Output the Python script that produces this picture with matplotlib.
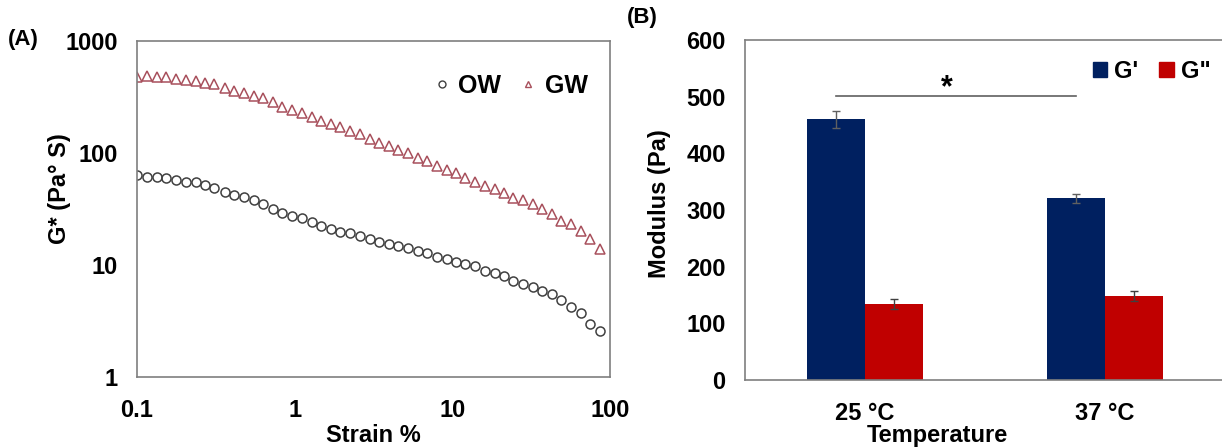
import matplotlib
matplotlib.use("Agg")
import matplotlib.pyplot as plt
from matplotlib.lines import Line2D
from matplotlib.patches import Patch

plt.rcParams['font.family'] = ['Liberation Sans', 'DejaVu Sans']
plt.rcParams['font.weight'] = 'bold'

# (A) amplitude sweep
strain = [0.1, 0.116, 0.133, 0.152, 0.178, 0.206, 0.235, 0.269, 0.31, 0.359,
          0.412, 0.476, 0.549, 0.627, 0.732, 0.836, 0.965, 1.12, 1.28, 1.47,
          1.70, 1.95, 2.25, 2.58, 2.99, 3.41, 3.94, 4.52, 5.22, 6.03,
          6.93, 8.0, 9.24, 10.5, 12.1, 14.0, 16.2, 18.7, 21.3, 24.4,
          27.9, 32.3, 37.3, 43.1, 49.2, 56.9, 65.7, 74.6, 86.1]
ow = [63.6, 61.5, 61.5, 60.2, 57.4, 55.4, 54.7, 51.8, 48.4, 45.2,
      42.2, 40.2, 38.0, 35.1, 31.6, 29.3, 27.6, 26.1, 24.4, 22.5,
      21.0, 19.8, 19.2, 18.2, 16.9, 16.1, 15.4, 14.8, 14.1, 13.3,
      12.7, 11.9, 11.3, 10.7, 10.2, 9.7, 8.8, 8.4, 7.9, 7.2,
      6.8, 6.3, 5.9, 5.5, 4.9, 4.2, 3.7, 3.0, 2.6]
gw = [473, 487, 477, 477, 455, 449, 439, 425, 411, 383,
      360, 346, 325, 308, 283, 259, 242, 229, 211, 194,
      180, 169, 157, 147, 132, 124, 115, 106, 99, 91,
      84, 77, 70, 66, 60, 55, 51, 48, 44, 40,
      38, 35, 31.6, 28.3, 24.9, 23.2, 20.2, 17.1, 13.8]

# (B) moduli
temps = ['25 °C', '37 °C']
g_storage = [460, 321]
g_storage_err = [15, 8]
g_loss = [134, 148]
g_loss_err = [9, 9]

fig = plt.figure(figsize=(12.22, 4.48), dpi=100)

# ---- panel A ----
ax1 = fig.add_axes([137 / 1222, 71 / 448, 473 / 1222, 336 / 448])
ax1.plot(strain, ow, 'o', ms=6.5, mfc='none', mec='#404040', mew=1.1, ls='none', label='OW')
ax1.plot(strain, gw, '^', ms=6.5, mfc='none', mec='#A8505C', mew=1.1, ls='none', label='GW')
ax1.set_xscale('log')
ax1.set_yscale('log')
ax1.set_xlim(0.1, 100)
ax1.set_ylim(1, 1000)
ax1.set_xticks([0.1, 1, 10, 100])
ax1.set_xticklabels(['0.1', '1', '10', '100'])
ax1.set_yticks([1, 10, 100, 1000])
ax1.set_yticklabels(['1', '10', '100', '1000'])
ax1.minorticks_off()
ax1.tick_params(length=0, labelsize=17, pad=14)
ax1.tick_params(axis='x', pad=16)
for s in ax1.spines.values():
    s.set_color('#7f7f7f')
    s.set_linewidth(1.2)
ax1.set_xlabel('Strain %', fontsize=17, fontweight='bold')
ax1.set_ylabel('G* (Pa° S)', fontsize=17, fontweight='bold')
ax1.yaxis.set_label_coords(-0.14, 0.56)
ax1.xaxis.set_label_coords(0.5, -0.14)
ax1.legend(handles=[
    Line2D([], [], marker='o', ms=5, mfc='none', mec='#404040', mew=1, ls='none', label='OW'),
    Line2D([], [], marker='^', ms=5, mfc='none', mec='#A8505C', mew=1, ls='none', label='GW')],
    ncol=2, frameon=False, loc='upper right', bbox_to_anchor=(1.0, 0.97),
    prop={'weight': 'bold', 'size': 18}, handletextpad=0.15, columnspacing=0.6,
    handlelength=1.0)
fig.text(8 / 1222, 1 - 40 / 448, '(A)', fontsize=16, fontweight='bold', va='center')

# ---- panel B ----
ax2 = fig.add_axes([745 / 1222, 68 / 448, 480 / 1222, 340 / 448])
x = [0, 1]
w = 0.24
xs = [i - w / 2 for i in x]
xl = [i + w / 2 for i in x]
ax2.bar(xs, g_storage, w, color='#002060', yerr=g_storage_err,
        error_kw=dict(ecolor='#606060', elinewidth=1, capsize=3, capthick=1), label="G'")
ax2.bar(xl, g_loss, w, color='#C00000', yerr=g_loss_err,
        error_kw=dict(ecolor='#404040', elinewidth=1, capsize=3, capthick=1), label='G"')
ax2.set_xlim(-0.5, 1.5)
ax2.set_ylim(0, 600)
ax2.set_xticks(x)
ax2.set_xticklabels(temps)
ax2.set_yticks(range(0, 601, 100))
ax2.tick_params(length=0, labelsize=17, pad=14)
ax2.tick_params(axis='x', pad=16)
for s in ax2.spines.values():
    s.set_color('#7f7f7f')
    s.set_linewidth(1.2)
ax2.spines['right'].set_visible(False)
ax2.set_xlabel('Temperature', fontsize=17, fontweight='bold')
ax2.set_ylabel('Modulus (Pa)', fontsize=17, fontweight='bold')
ax2.yaxis.set_label_coords(-0.155, 0.52)
ax2.xaxis.set_label_coords(0.4, -0.13)

# significance bar
ax2.plot([xs[0], xs[1]], [502, 502], color='#606060', lw=1.2)
ax2.text((xs[0] + xs[1]) / 2 - 0.04, 514, '*', fontsize=22, fontweight='bold',
         ha='center', va='center')

ax2.legend(handles=[Patch(color='#002060', label="G'"), Patch(color='#C00000', label='G"')],
           ncol=2, frameon=False, loc='upper left', bbox_to_anchor=(0.70, 0.975),
           borderpad=0, prop={'weight': 'bold', 'size': 17}, handlelength=0.6,
           handleheight=0.6, handletextpad=0.3, columnspacing=0.9)
fig.text(627 / 1222, 1 - 18 / 448, '(B)', fontsize=16, fontweight='bold', va='center')

fig.savefig('out.png', dpi=100)
